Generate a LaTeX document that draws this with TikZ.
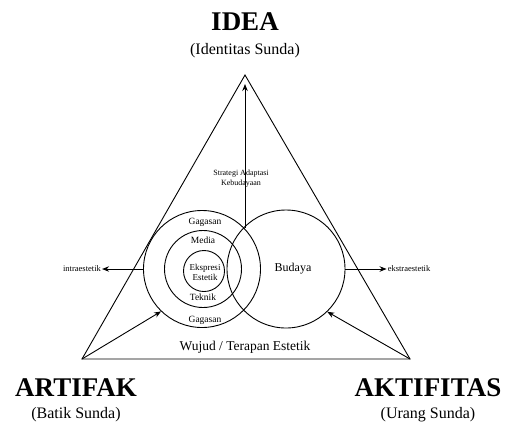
\documentclass[tikz,border=0pt]{standalone}
\usepackage{fontspec}
\setmainfont{Liberation Serif}
\usetikzlibrary{arrows.meta}
\tikzset{
  ring/.style={circle, draw, line width=0.9pt, inner sep=0pt},
  arr/.style={line width=0.9pt, -{Stealth[length=7pt,width=5.5pt]}},
  big/.style={font=\fontsize{27}{30}\selectfont\bfseries},
  sub/.style={font=\fontsize{16}{18}\selectfont},
  small/.style={font=\fontsize{9.5}{10}\selectfont, inner sep=1pt},
}
\begin{document}
\begin{tikzpicture}[x=1pt,y=-1pt]
\useasboundingbox (0,0) rectangle (505,426);
% triangle
\coordinate (A) at (245,75);
\coordinate (L) at (82,359);
\coordinate (R) at (410,359);
\draw[line width=0.9pt] (A) -- (L) -- (R) -- cycle;
% circles
\node[ring, minimum size=117pt] (outerL) at (202,269) {};
\node[ring, minimum size=118pt] (budaya) at (286,269) {};
\node[ring, minimum size=77pt] (media) at (203,269) {};
\node[ring, minimum size=41pt] (inner) at (204,271) {};
% labels inside
\node[small] (g1) at (205,222) {Gagasan};
\node[small] (m) at (203,240) {Media};
\node[small, align=center, font=\fontsize{9}{10}\selectfont] (ek) at (205,272) {Ekspresi\\Estetik};
\node[small] (t) at (203,297) {Teknik};
\node[small] (g2) at (205,320) {Gagasan};
\node[font=\fontsize{12}{14}\selectfont] (bl) at (293,269) {Budaya};
\node[font=\fontsize{13.5}{16}\selectfont] (wujud) at (245,347) {Wujud / Terapan Estetik};
% vertical arrow
\coordinate (X) at (245,228);
\coordinate (Tip) at (245,84);
\draw[arr] (X) -- (Tip);
\node[align=center, font=\fontsize{8}{10}\selectfont] (strat) at (241,179) {Strategi Adaptasi\\Kebudayaan};
% side arrows
\node[font=\fontsize{8.5}{10}\selectfont, inner sep=1pt] (intra) at (82,269) {intraestetik};
\node[font=\fontsize{8.5}{10}\selectfont, inner sep=1pt] (ekstra) at (409,269) {ekstraestetik};
\draw[arr] (outerL.west) -- (intra.east);
\draw[arr] (budaya.east) -- (ekstra.west);
% diagonal arrows
\draw[arr] (L) -- (outerL.226);
\draw[arr] (R) -- (budaya.314);
% titles
\node[big] (idea) at (245,22) {IDEA};
\node[sub] (ids) at (245,51) {(Identitas Sunda)};
\node[big] (art) at (76,388) {ARTIFAK};
\node[sub] (bs) at (76,415) {(Batik Sunda)};
\node[big] (akt) at (428,388) {AKTIFITAS};
\node[sub] (us) at (428,415) {(Urang Sunda)};
\end{tikzpicture}
\end{document}
